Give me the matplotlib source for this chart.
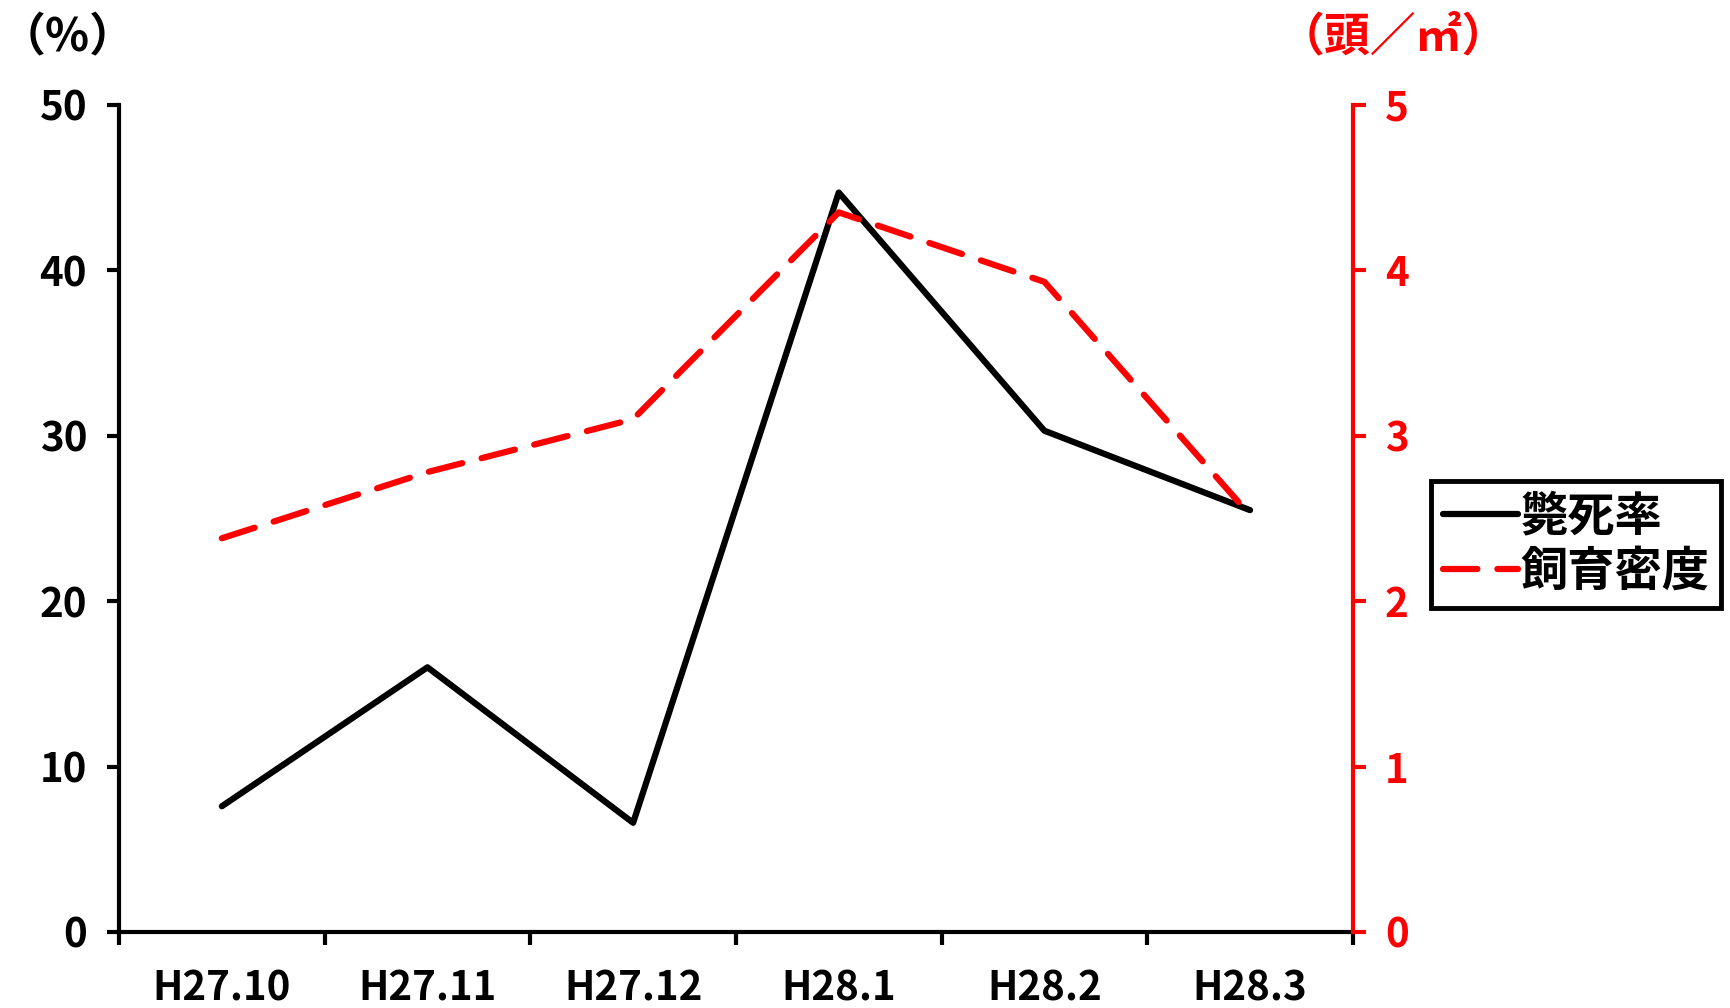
import matplotlib
matplotlib.use("Agg")
import matplotlib.pyplot as plt

plt.rcParams['font.family'] = ['Noto Sans CJK JP', 'DejaVu Sans']

# data
months = ["H27.10", "H27.11", "H27.12", "H28.1", "H28.2", "H28.3"]
mortality = [7.6, 16.0, 6.6, 44.7, 30.3, 25.5]      # 斃死率 (%)
density = [2.38, 2.78, 3.1, 4.35, 3.93, 2.52]       # 飼育密度 (頭/㎡)

fig = plt.figure(figsize=(17.3, 10.08), dpi=100)
ax = fig.add_axes([0.0688, 0.0754, 0.7132, 0.8206])
ax2 = ax.twinx()

x = list(range(len(months)))
l1, = ax.plot(x, mortality, color="black", lw=4.5, solid_capstyle="round", label="斃死率")
l2, = ax2.plot(x, density, color="red", lw=4.5, dashes=(5.5, 3.2), dash_capstyle="round", label="飼育密度")

ax.set_xlim(-0.5, len(months) - 0.5)
ax.set_ylim(0, 50)
ax2.set_ylim(0, 5)
ax.set_yticks([0, 10, 20, 30, 40, 50])
ax2.set_yticks([0, 1, 2, 3, 4, 5])

# category labels between boundary ticks
ax.set_xticks([i - 0.5 for i in range(len(months) + 1)])
ax.set_xticklabels([])
ax.set_xticks(x, minor=True)
ax.set_xticklabels(months, minor=True)
ax.tick_params(axis="x", which="minor", length=0, pad=26, labelsize=29)
ax.tick_params(axis="x", which="major", length=9, width=3, direction="out")
ax.tick_params(axis="y", length=9, width=3, labelsize=29, pad=14)
ax2.tick_params(axis="y", length=9, width=3, labelsize=29, pad=14, colors="red")

for a in (ax, ax2):
    a.spines["top"].set_visible(False)
ax.spines["left"].set_linewidth(3)
ax.spines["bottom"].set_linewidth(3)
ax.spines["right"].set_visible(False)
ax2.spines["left"].set_visible(False)
ax2.spines["bottom"].set_visible(False)
ax2.spines["right"].set_color("red")
ax2.spines["right"].set_linewidth(3)

for lab in ax.get_yticklabels() + ax.get_xticklabels(minor=True) + ax2.get_yticklabels():
    lab.set_fontweight("bold")

fig.text(0.0, 0.963, "（%）", fontsize=33, fontweight="bold", ha="left", va="center")
fig.text(0.739, 0.963, "（頭／㎡）", fontsize=33, fontweight="bold", color="red",
         ha="left", va="center")

leg = fig.legend([l1, l2], ["斃死率", "飼育密度"], loc="upper left",
                 bbox_to_anchor=(0.827, 0.523), borderaxespad=0, handlelength=1.6,
                 handletextpad=0.05, borderpad=0.25, labelspacing=0.15,
                 fancybox=False, edgecolor="black", framealpha=1,
                 prop={"weight": "bold", "size": 34})
leg.get_frame().set_linewidth(3.5)

fig.savefig("out.png", dpi=100)
